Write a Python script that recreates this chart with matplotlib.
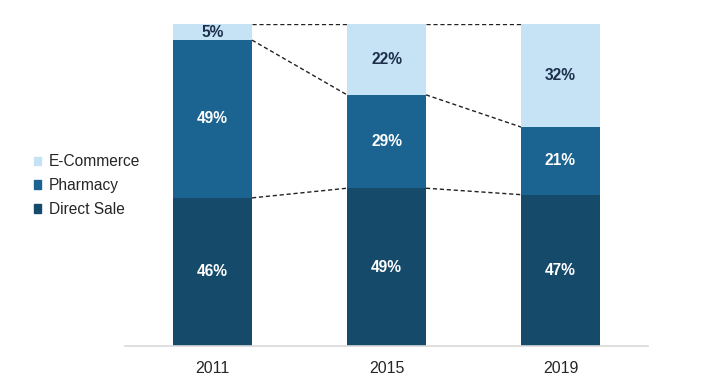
import matplotlib
matplotlib.use("Agg")
import matplotlib.pyplot as plt
from matplotlib.patches import Patch
import numpy as np

plt.rcParams['font.family'] = ['Liberation Sans', 'DejaVu Sans']

years = ["2011", "2015", "2019"]
direct_sale = [46, 49, 47]
pharmacy = [49, 29, 21]
ecommerce = [5, 22, 32]

c_direct = "#154a6a"
c_pharm = "#1b6390"
c_ecom = "#c6e2f5"

fig = plt.figure(figsize=(7.04, 3.84), dpi=100)
ax = fig.add_axes([125/704, 38/384, 523/704, 322/384])

x = np.arange(len(years))
w = 0.454
series = [("Direct Sale", direct_sale, c_direct, "white"),
          ("Pharmacy", pharmacy, c_pharm, "white"),
          ("E-Commerce", ecommerce, c_ecom, "#1c2e4a")]
bottom = np.zeros(len(years))
bounds = [bottom.copy()]
for name, vals, col, tcol in series:
    vals = np.array(vals, dtype=float)
    ax.bar(x, vals, w, bottom=bottom, color=col, label=name, zorder=2)
    for xi, b, v in zip(x, bottom, vals):
        ax.text(xi, b + v / 2, f"{int(v)}%", ha="center", va="center",
                color=tcol, fontsize=11.2, fontweight="bold", zorder=3)
    bottom = bottom + vals
    bounds.append(bottom.copy())

# dashed connectors between bars
for lvl in bounds[1:]:
    for i in range(len(years) - 1):
        ax.plot([x[i] + w / 2, x[i + 1] - w / 2], [lvl[i], lvl[i + 1]],
                ls=(0, (3, 2)), color="#222222", lw=1.0, zorder=1)

ax.set_xlim(-0.503, 2.503)
ax.set_ylim(0, 100)
ax.set_xticks(x)
ax.set_xticklabels(years, fontsize=11.5, color="#262626")
ax.set_yticks([])
for s in ["top", "right", "left"]:
    ax.spines[s].set_visible(False)
ax.spines["bottom"].set_color("#d9d9d9")
ax.spines["bottom"].set_linewidth(1.2)
ax.tick_params(axis="x", length=0, pad=11)

handles = [Patch(color=c_ecom), Patch(color=c_pharm), Patch(color=c_direct)]
labels = ["E-Commerce", "Pharmacy", "Direct Sale"]
fig.legend(handles, labels, loc="upper left", bbox_to_anchor=(28/704, 1 - 148/384),
           frameon=False, fontsize=11.2, handlelength=0.45, handleheight=0.45,
           handletextpad=0.5, labelspacing=0.57, borderaxespad=0, labelcolor="#262626")

fig.savefig("out.png", dpi=100)
